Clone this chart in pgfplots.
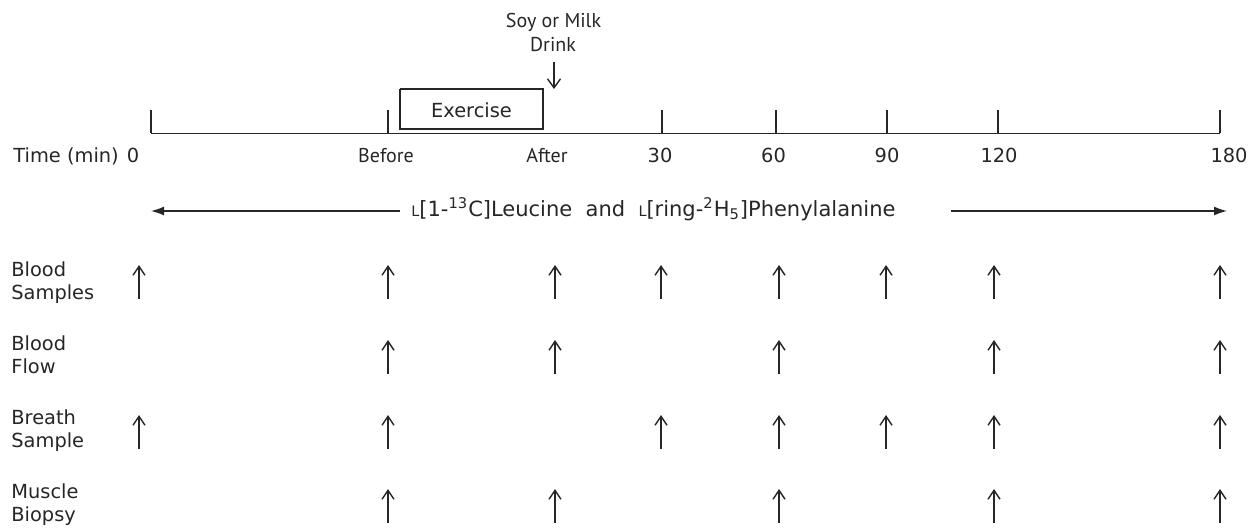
\documentclass[border=0pt]{standalone}
\usepackage{pgfplots}
\pgfplotsset{compat=1.18}
\usetikzlibrary{arrows.meta}
\usepackage{fontspec}
\setmainfont{DejaVu Sans}
\newfontfamily\ptsans{PT Sans}
\definecolor{ink}{HTML}{262626}
\begin{document}
\begin{tikzpicture}[
  lab/.style={font=\fontsize{9.7}{11.5}\selectfont, text=ink, inner sep=0pt},
  nar/.style={font=\ptsans\fontsize{10}{11.5}\selectfont, text=ink, inner sep=0pt},
]
\begin{axis}[
  scale only axis, width=628pt, height=263.5pt,
  xmin=0, xmax=1256, ymin=0, ymax=527, y dir=reverse,
  hide axis, clip=false,
]
\path (axis cs:0,0) rectangle (axis cs:1256,527);
% timeline
\addplot[ink, line width=0.75pt] coordinates {(151,133.5) (1220,133.5)};
\addplot[ink, line width=0.75pt, quiver={u=0, v=-23.5}] table[row sep=\\] {
x y\\ 151 133.5\\ 388 133.5\\ 662 133.5\\ 776 133.5\\ 887 133.5\\ 998 133.5\\ 1220 133.5\\};
% exercise box
\addplot[ink, line width=0.7pt] coordinates {(400,89) (543,89) (543,129) (400,129) (400,89)};
\node[lab, anchor=base] at (axis cs:471.5,118) {Exercise};
% drink arrow
\addplot[ink, line width=0.7pt, -{Straight Barb[length=4.5pt,width=6.5pt]}] coordinates {(554,62) (554,89)};
\node[nar, anchor=base] at (axis cs:553.5,28) {Soy or Milk};
\node[nar, anchor=base] at (axis cs:553,52) {Drink};
% time labels
\node[lab, anchor=base west] at (axis cs:13,163) {Time (min)};
\node[lab, anchor=base] at (axis cs:133,163) {0};
\node[nar, anchor=base] at (axis cs:386,163) {Before};
\node[nar, anchor=base] at (axis cs:547,163) {After};
\node[lab, anchor=base] at (axis cs:660,163) {30};
\node[lab, anchor=base] at (axis cs:773.5,163) {60};
\node[lab, anchor=base] at (axis cs:887,163) {90};
\node[lab, anchor=base] at (axis cs:999,163) {120};
\node[lab, anchor=base] at (axis cs:1229,163) {180};
% infusion arrows
\addplot[ink, line width=0.7pt, -{Latex[length=6.5pt,width=4.5pt]}] coordinates {(400,211) (151,211)};
\addplot[ink, line width=0.7pt, -{Latex[length=6.5pt,width=4.5pt]}] coordinates {(951,211) (1227,211)};
\node[lab, anchor=base west, font=\fontsize{10.5}{12}\selectfont] at (axis cs:411,216) {{\fontsize{7.2}{7}\selectfont L}[1-\textsuperscript{13}C]Leucine\ \ and\ \ {\fontsize{7.2}{7}\selectfont L}[ring-\textsuperscript{2}H\textsubscript{5}]Phenylalanine};
% row labels
\node[lab, anchor=base west] at (axis cs:11,276) {Blood};
\node[lab, anchor=base west] at (axis cs:11,299) {Samples};
\node[lab, anchor=base west] at (axis cs:11,350) {Blood};
\node[lab, anchor=base west] at (axis cs:11,373) {Flow};
\node[lab, anchor=base west] at (axis cs:11,424) {Breath};
\node[lab, anchor=base west] at (axis cs:11,447) {Sample};
\node[lab, anchor=base west] at (axis cs:11,498) {Muscle};
\node[lab, anchor=base west] at (axis cs:11,521) {Biopsy};
% sampling arrows
\pgfplotsset{samp/.style={ink, line width=0.7pt, -{Straight Barb[length=4.5pt,width=6pt]}, quiver={u=0, v=-34}}}
\addplot[samp] table[row sep=\\] {
x y\\ 139 299\\ 388 299\\ 555 299\\ 661 299\\ 779 299\\ 886 299\\ 994 299\\ 1220 299\\};
\addplot[samp] table[row sep=\\] {
x y\\ 388 374\\ 555 374\\ 779 374\\ 994 374\\ 1220 374\\};
\addplot[samp] table[row sep=\\] {
x y\\ 139 449\\ 388 449\\ 661 449\\ 779 449\\ 886 449\\ 994 449\\ 1220 449\\};
\addplot[samp] table[row sep=\\] {
x y\\ 388 523\\ 555 523\\ 779 523\\ 994 523\\ 1220 523\\};
\end{axis}
\end{tikzpicture}
\end{document}
